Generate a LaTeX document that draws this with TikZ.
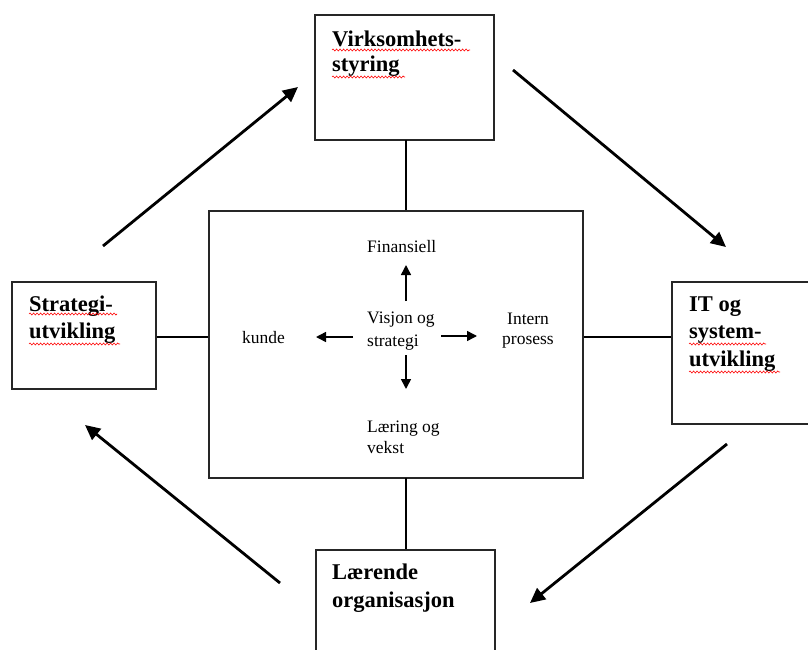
\documentclass[tikz,border=0pt]{standalone}
\usepackage{fontspec}
\setmainfont{Liberation Serif}
\usetikzlibrary{arrows.meta,decorations.pathmorphing}
\begin{document}
\begin{tikzpicture}[x=1pt,y=-1pt,
  box/.style={draw=black!85,line width=1.4pt,rectangle,inner sep=0pt},
  title/.style={font=\fontsize{22.5}{27}\selectfont\bfseries,anchor=base west,inner sep=0pt},
  small/.style={font=\fontsize{17.5}{21}\selectfont,anchor=base west,inner sep=0pt},
  link/.style={draw=black,line width=1.3pt},
  bigarrow/.style={line width=2.8pt,-{Triangle[length=15pt,width=14pt]}},
  smallarrow/.style={line width=1.5pt,-{Triangle[length=10pt,width=10pt]}},
  squig/.style={red,line width=0.6pt,decorate,decoration={snake,amplitude=1pt,segment length=3.5pt}}]
\useasboundingbox (0,0) rectangle (808,650);
\clip (0,0) rectangle (808,650);
% boxes
\node[box,minimum width=179pt,minimum height=125pt] (top) at (404.5,77.5) {};
\node[box,minimum width=374pt,minimum height=267pt] (mid) at (396,344.5) {};
\node[box,minimum width=144pt,minimum height=107pt] (left) at (84,335.5) {};
\node[box,minimum width=160pt,minimum height=142pt] (right) at (752,353) {};
\node[box,minimum width=179pt,minimum height=130pt] (bot) at (405.5,615) {};
% connectors to centre box
\draw[link] (406,140) coordinate (tb) -- (tb |- mid.north);
\draw[link] (406,478) coordinate (mb) -- (mb |- bot.north);
\draw[link] (left.east |- 0,337) coordinate (lc) -- (lc -| mid.west);
\draw[link] (mid.east |- 0,337) coordinate (rc) -- (rc -| right.west);
% titles
\node[title] (t1) at (332,47) {Virksomhets-};
\node[title] (t2) at (332,72) {styring};
\node[title] (l1) at (29,311) {Strategi-};
\node[title] (l2) at (29,338) {utvikling};
\node[title] (r1) at (689,311) {IT og};
\node[title] (r2) at (689,338) {system-};
\node[title] (r3) at (689,366) {utvikling};
\node[title] (b1) at (332,579) {Lærende};
\node[title] (b2) at (332,607) {organisasjon};
% spell-check squiggles
\draw[squig] (t1.base west) ++(0,3) -- ++(138,0);
\draw[squig] (t2.base west) ++(0,5) -- ++(73,0);
\draw[squig] (l1.base west) ++(0,3) -- ++(88,0);
\draw[squig] (l2.base west) ++(0,6) -- ++(91,0);
\draw[squig] (r2.base west) ++(0,6) -- ++(77,0);
\draw[squig] (r3.base west) ++(0,6) -- ++(91,0);
% inner texts
\node[small] (fin) at (367,252) {Finansiell};
\node[small] (vis1) at (367,323) {Visjon og};
\node[small] (vis2) at (367,346) {strategi};
\node[small] (kun) at (242,343) {kunde};
\node[small] (int1) at (507,324) {Intern};
\node[small] (int2) at (502,344) {prosess};
\node[small] (lae1) at (367,432) {Læring og};
\node[small] (lae2) at (367,453) {vekst};
% inner arrows
\coordinate (cu0) at (406,301); \coordinate (cu1) at (406,265);
\coordinate (cd0) at (406,355); \coordinate (cd1) at (406,389);
\coordinate (cl0) at (353,337); \coordinate (cl1) at (316,337);
\coordinate (cr0) at (441,336); \coordinate (cr1) at (477,336);
\draw[smallarrow] (cu0) -- (cu1);
\draw[smallarrow] (cd0) -- (cd1);
\draw[smallarrow] (cl0) -- (cl1);
\draw[smallarrow] (cr0) -- (cr1);
% big cycle arrows
\coordinate (a1) at (103,246); \coordinate (a2) at (298,87);
\coordinate (b1s) at (513,70); \coordinate (b2s) at (726,247);
\coordinate (c1) at (727,444); \coordinate (c2) at (530,603);
\coordinate (d1) at (280,583); \coordinate (d2) at (85,425);
\draw[bigarrow] (a1) -- (a2);
\draw[bigarrow] (b1s) -- (b2s);
\draw[bigarrow] (c1) -- (c2);
\draw[bigarrow] (d1) -- (d2);
\end{tikzpicture}
\end{document}
